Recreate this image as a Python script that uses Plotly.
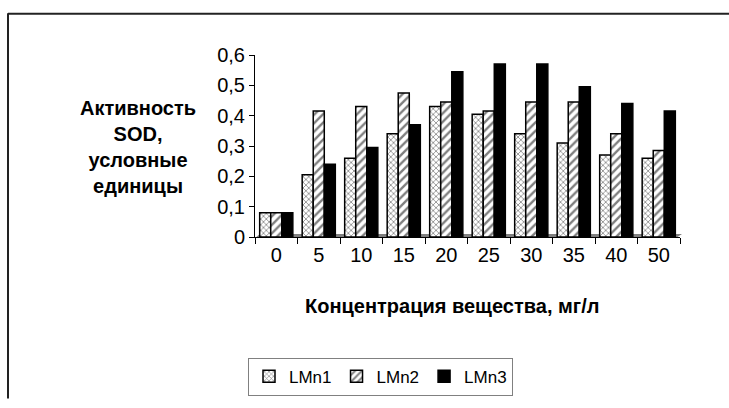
import plotly.graph_objects as go

# Concentration of the compound, mg/l
categories = ["0", "5", "10", "15", "20", "25", "30", "35", "40", "50"]

# SOD activity, arbitrary units
lmn1 = [0.08, 0.205, 0.26, 0.34, 0.43, 0.405, 0.34, 0.31, 0.27, 0.26]
lmn2 = [0.08, 0.415, 0.43, 0.475, 0.445, 0.415, 0.445, 0.445, 0.34, 0.285]
lmn3 = [0.08, 0.24, 0.295, 0.37, 0.545, 0.57, 0.57, 0.495, 0.44, 0.415]

y_ticks = [0, 0.1, 0.2, 0.3, 0.4, 0.5, 0.6]

W, H = 729, 408
ML, MR, MT, MB = 255, 49, 55, 166
PW, PH = W - ML - MR, H - MT - MB


def px(x):
    return (x - ML) / PW


def py(y):
    return (H - MB - y) / PH


FONT = "Liberation Sans, Arial, sans-serif"

fig = go.Figure()

series = [
    ("LMn1", lmn1, dict(shape="x", size=4, solidity=0.35, fgcolor="#000000", bgcolor="#ffffff")),
    ("LMn2", lmn2, dict(shape="/", size=6, solidity=0.4, fgcolor="#000000", bgcolor="#ffffff")),
    ("LMn3", lmn3, None),
]

for name, vals, pattern in series:
    marker = dict(color="#000000" if pattern is None else "#ffffff",
                  line=dict(color="#000000", width=1.5))
    if pattern is not None:
        marker["pattern"] = pattern
    fig.add_trace(go.Bar(x=categories, y=vals, name=name, marker=marker))

shapes = [
    # grey floor under the bars
    dict(type="path", xref="paper", yref="paper",
         path=f"M {px(255)},{py(243)} L {px(676)},{py(243)} L {px(682)},{py(239)} L {px(260)},{py(239)} Z",
         fillcolor="#808080", line=dict(width=0), layer="below"),
    # outer frame (top and left edges)
    dict(type="line", xref="paper", yref="paper",
         x0=px(8), x1=px(729), y0=py(12.5), y1=py(12.5),
         line=dict(color="#222222", width=2)),
    dict(type="line", xref="paper", yref="paper",
         x0=px(8), x1=px(8), y0=py(12), y1=py(408),
         line=dict(color="#222222", width=2)),
]

annotations = [
    dict(text="<b>Активность<br>SOD,<br>условные<br>единицы</b>",
         xref="paper", yref="paper", x=px(138), y=py(150),
         xanchor="center", yanchor="middle", showarrow=False, align="center",
         font=dict(family=FONT, size=20, color="#000000")),
    dict(text="<b>Концентрация вещества, мг/л</b>",
         xref="paper", yref="paper", x=px(452), y=py(313),
         xanchor="center", yanchor="middle", showarrow=False,
         font=dict(family=FONT, size=20, color="#000000")),
]

fig.update_layout(
    width=W, height=H,
    margin=dict(l=ML, r=MR, t=MT, b=MB),
    paper_bgcolor="#ffffff", plot_bgcolor="#ffffff",
    separators=", ",
    barmode="group", bargap=0.22, bargroupgap=0,
    font=dict(family=FONT, size=17, color="#000000"),
    shapes=shapes, annotations=annotations,
    showlegend=True,
    legend=dict(orientation="h", xref="paper", yref="paper",
                x=px(248), y=py(366), xanchor="left", yanchor="top",
                bordercolor="#808080", borderwidth=1,
                font=dict(family=FONT, size=17), itemwidth=30,
                traceorder="normal"),
    xaxis=dict(type="category", showline=True, linecolor="#000000", linewidth=1,
               ticks="outside", tickson="boundaries", ticklen=6, tickcolor="#000000",
               showgrid=False, zeroline=False,
               tickfont=dict(family=FONT, size=20)),
    yaxis=dict(range=[0, 0.6], tickvals=y_ticks, showline=True, linecolor="#000000",
               linewidth=1, ticks="outside", ticklen=5, tickcolor="#000000",
               showgrid=False, zeroline=False,
               tickfont=dict(family=FONT, size=20)),
)

fig.write_html("out.html")
